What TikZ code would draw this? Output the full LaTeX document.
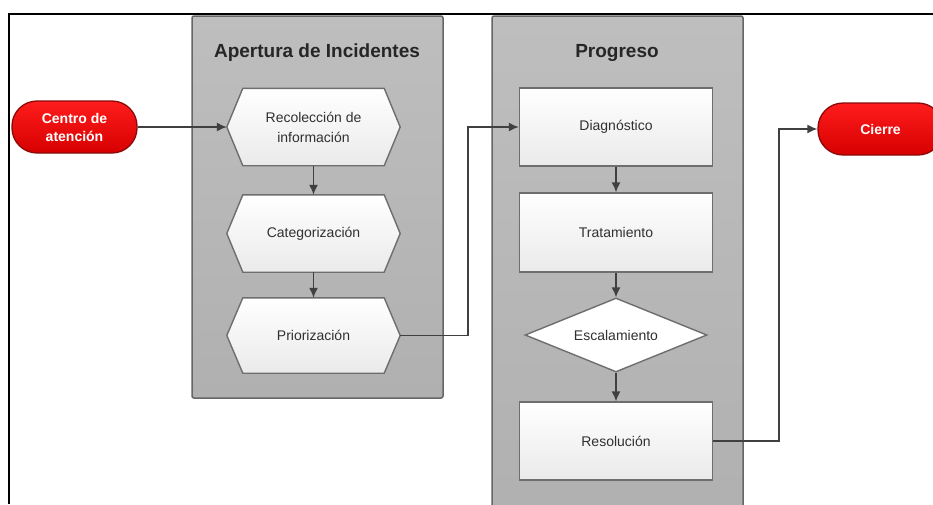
\documentclass[tikz,border=0pt]{standalone}
\usepackage{fontspec}
\setmainfont{Liberation Sans}
\usetikzlibrary{arrows.meta,shapes.geometric,calc}

\definecolor{panelTop}{HTML}{BEBEBE}
\definecolor{panelBot}{HTML}{B0B0B0}
\definecolor{panelEdge}{HTML}{666666}
\definecolor{boxEdge}{HTML}{6E6E6E}
\definecolor{boxBot}{HTML}{EAEAEA}
\definecolor{wire}{HTML}{404040}
\definecolor{txt}{HTML}{303030}
\definecolor{redTop}{HTML}{FF1C1C}
\definecolor{redBot}{HTML}{D60000}
\definecolor{redEdge}{HTML}{8A0A0A}

\pgfdeclarelayer{back}
\pgfsetlayers{back,main}

\tikzset{
  panel/.style={draw=panelEdge, line width=1.5pt, rounded corners=2pt,
    top color=panelTop, bottom color=panelBot},
  paneltitle/.style={font=\bfseries\fontsize{19}{22}\selectfont, text=black!85},
  stepbox/.style={draw=boxEdge, line width=1.4pt, top color=white, bottom color=boxBot,
    minimum width=193pt, minimum height=78pt, inner sep=0pt,
    font=\fontsize{14}{20}\selectfont, text=txt, align=center},
  hexslot/.style={minimum width=173pt, minimum height=77pt, inner sep=0pt,
    font=\fontsize{14}{20}\selectfont, text=txt, align=center},
  hexfill/.style={draw=boxEdge, line width=1.4pt, top color=white, bottom color=boxBot},
  decision/.style={diamond, aspect=2.45, draw=boxEdge, line width=1.4pt,
    fill=white, minimum width=182pt, minimum height=74pt, inner sep=0pt,
    font=\fontsize{14}{20}\selectfont, text=txt},
  terminal/.style={draw=redEdge, line width=1.3pt, rounded corners=25pt,
    top color=redTop, bottom color=redBot, minimum width=125pt, minimum height=52pt,
    inner sep=0pt, text=white, align=center,
    font=\bfseries\fontsize{14}{18}\selectfont},
  flow/.style={draw=wire, line width=1.5pt, -{Latex[length=10pt,width=9pt]}},
  frame/.style={draw=black, line width=2pt},
}

% hexagonal outline around a named rectangular slot
\newcommand{\hexshape}[1]{%
  \path[hexfill] (#1.west) -- ([xshift=16pt]#1.north west) -- ([xshift=-16pt]#1.north east)
    -- (#1.east) -- ([xshift=-16pt]#1.south east) -- ([xshift=16pt]#1.south west) -- cycle;}

\begin{document}
\begin{tikzpicture}[x=1pt,y=-1pt]
  \useasboundingbox (0,0) rectangle (933,504);
  \clip (0,0) rectangle (933,504);

  \node[paneltitle] (t1) at (317,53) {Apertura de Incidentes};
  \node[paneltitle] (t2) at (617,53) {Progreso};

  % terminals
  \node[terminal] (centro) at (74.5,127) {Centro de\\atención};
  \node[terminal] (cierre) at (880.5,129) {Cierre};

  % opening steps
  \node[hexslot] (rec) at (313.5,127) {Recolección de\\información};
  \node[hexslot] (cat) at (313.5,233.5) {Categorización};
  \node[hexslot, minimum height=75pt] (pri) at (313.5,335.5) {Priorización};

  % progress steps
  \node[stepbox] (diag) at (616,127) {Diagnóstico};
  \node[stepbox, minimum height=79pt] (trat) at (616,232.5) {Tratamiento};
  \node[decision] (esc) at (616,335) {Escalamiento};
  \node[stepbox] (res) at (616,441) {Resolución};

  % background: page, swimlane panels, hexagon outlines
  \begin{pgfonlayer}{back}
    \clip (0,0) rectangle (933,504);
    \fill[white] (0,0) rectangle (933,504);
    \path[panel] (192,16) rectangle (443,398);
    \path[panel] (492,16) rectangle (743,530);
    \hexshape{rec}
    \hexshape{cat}
    \hexshape{pri}
  \end{pgfonlayer}

  % outer frame (top and left edges)
  \draw[frame] (933,14) -- (9,14) -- (9,504);

  % connectors
  \coordinate (bendA) at (468,335.5);
  \coordinate (bendB) at (779,441);

  \draw[flow] (centro.east) -- (rec.west);
  \draw[flow] (rec.south) -- (cat.north);
  \draw[flow] (cat.south) -- (pri.north);
  \draw[flow] (pri.east) -- (bendA) |- (diag.west);
  \draw[flow] (diag.south) -- (trat.north);
  \draw[flow] (trat.south) -- (esc.north);
  \draw[flow] (esc.south) -- (res.north);
  \draw[flow] (res.east) -- (bendB) |- (cierre.west);
\end{tikzpicture}
\end{document}
